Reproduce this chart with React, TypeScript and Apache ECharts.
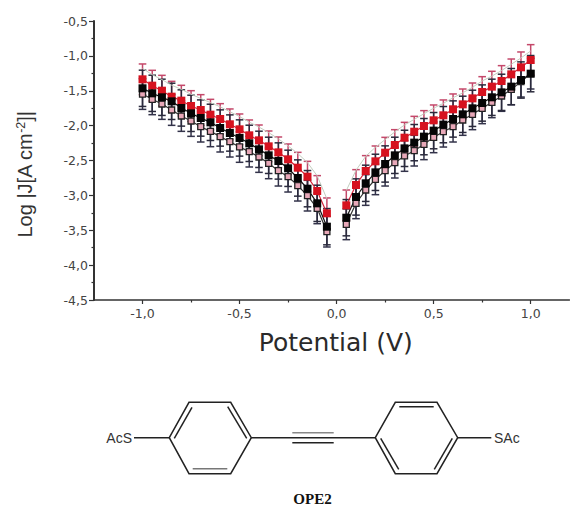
import React, { useEffect, useRef } from "react";
import * as echarts from "echarts";

const potentials = [
  -1.0, -0.95, -0.9, -0.85, -0.8, -0.75, -0.7, -0.65, -0.6, -0.55, -0.5, -0.45, -0.4, -0.35, -0.3, -0.25, -0.2, -0.15, -0.1, -0.05,
  0,
  0.05, 0.1, 0.15, 0.2, 0.25, 0.3, 0.35, 0.4, 0.45, 0.5, 0.55, 0.6, 0.65, 0.7, 0.75, 0.8, 0.85, 0.9, 0.95, 1.0,
];

const redValues = [
  -1.336, -1.427, -1.499, -1.585, -1.642, -1.719, -1.776, -1.843, -1.905, -1.981, -2.053, -2.139, -2.211, -2.297, -2.383, -2.483, -2.603, -2.732, -2.937, -3.257,
  null,
  -3.143, -2.851, -2.65, -2.512, -2.388, -2.278, -2.173, -2.087, -2.005, -1.924, -1.852, -1.766, -1.695, -1.609, -1.518, -1.441, -1.36, -1.265, -1.164, -1.059,
];
const blackValues = [
  -1.465, -1.537, -1.594, -1.652, -1.747, -1.824, -1.891, -1.953, -2.034, -2.106, -2.177, -2.254, -2.34, -2.426, -2.507, -2.612, -2.751, -2.904, -3.114, -3.449,
  null,
  -3.32, -3.023, -2.827, -2.67, -2.55, -2.426, -2.326, -2.244, -2.158, -2.072, -1.986, -1.905, -1.838, -1.752, -1.676, -1.594, -1.523, -1.441, -1.346, -1.255,
];
const openValues = [
  -1.547, -1.623, -1.69, -1.776, -1.862, -1.934, -2.015, -2.082, -2.158, -2.23, -2.306, -2.373, -2.45, -2.541, -2.646, -2.732, -2.861, -3.004, -3.186, -3.52,
  null,
  -3.415, -3.114, -2.923, -2.77, -2.646, -2.531, -2.435, -2.359, -2.268, -2.168, -2.087, -2.015, -1.919, -1.838, -1.752, -1.666, -1.575, -1.48, -1.37, -1.255,
];
const paleValues = [
  -1.18, -1.27, -1.34, -1.42, -1.48, -1.55, -1.61, -1.67, -1.73, -1.8, -1.87, -1.95, -2.02, -2.1, -2.19, -2.29, -2.4, -2.53, -2.72, -3.05,
  null,
  -2.93, -2.64, -2.44, -2.31, -2.2, -2.09, -1.99, -1.91, -1.83, -1.75, -1.68, -1.6, -1.53, -1.45, -1.36, -1.29, -1.21, -1.12, -1.03, -0.93,
];

const redError = 0.22;
const blackError = 0.26;
const openError = 0.22;

const xMajorTicks = [-1, -0.5, 0, 0.5, 1];
const xMinorTicks = [-0.75, -0.25, 0.25, 0.75];
const yTitle = "{a|Log |J[A cm}{b|-2}{a|]|}";
const xTitle = "Potential (V)";

const withComma = (v: number) => v.toFixed(1).replace(".", ",");

const points = (values: (number | null)[]) => potentials.map((x, i) => [x, values[i]]);

const errorSeries = (values: (number | null)[], err: number, color: string) => ({
  type: "custom",
  silent: true,
  data: potentials
    .map((x, i) => [x, values[i], err])
    .filter((d) => d[1] !== null),
  encode: { x: 0, y: 1 },
  renderItem: (_: unknown, api: any) => {
    const x = api.value(0);
    const y = api.value(1);
    const e = api.value(2);
    const hi = api.coord([x, y + e]);
    const lo = api.coord([x, y - e]);
    const style = { stroke: color, lineWidth: 1.5, fill: "none" };
    const cap = 3.8;
    return {
      type: "group",
      children: [
        { type: "line", shape: { x1: hi[0], y1: hi[1], x2: lo[0], y2: lo[1] }, style },
        { type: "line", shape: { x1: hi[0] - cap, y1: hi[1], x2: hi[0] + cap, y2: hi[1] }, style },
        { type: "line", shape: { x1: lo[0] - cap, y1: lo[1], x2: lo[0] + cap, y2: lo[1] }, style },
      ],
    };
  },
});

const lineSeries = (
  name: string,
  values: (number | null)[],
  line: string,
  lineWidth: number,
  symbolSize: number,
  fill: string,
  border: string,
  borderWidth: number,
) => ({
  name,
  type: "line",
  data: points(values),
  connectNulls: false,
  symbol: symbolSize ? "rect" : "none",
  symbolSize,
  lineStyle: { color: line, width: lineWidth },
  itemStyle: { color: fill, borderColor: border, borderWidth },
});

// Structure drawing of the molecule
const ink = "#222";
const bond = (x1: number, y1: number, x2: number, y2: number, stroke = ink, lineWidth = 1.5) => ({
  type: "line",
  shape: { x1, y1, x2, y2 },
  style: { stroke, lineWidth },
  silent: true,
});
const ring = (points: number[][]) => ({
  type: "polygon",
  shape: { points },
  style: { stroke: ink, lineWidth: 1.5, fill: "none" },
  silent: true,
});

const molecule = [
  ring([[169.3, 437.7], [189, 402.3], [230.7, 402.3], [251.3, 437.7], [230.7, 473.7], [189, 473.7]]),
  ring([[375.3, 437.7], [395.3, 402.3], [437, 402.3], [457.7, 437.7], [437, 473.7], [395.3, 473.7]]),
  bond(174.3, 438.3, 192, 407.3),
  bond(227.7, 406.7, 246.7, 438.3),
  bond(192.7, 468.7, 227.3, 468.7, "#777"),
  bond(399.3, 406.7, 433.7, 406.7),
  bond(380.7, 438.3, 398.7, 469.3),
  bond(434.3, 469.3, 452.3, 438.3),
  bond(134, 437.7, 169.3, 437.7),
  bond(457.7, 437.7, 491.3, 437.7),
  bond(251.3, 437.7, 375.3, 437.7),
  bond(292.3, 432.7, 333.7, 432.7, "#888"),
  bond(292.3, 442.7, 333.7, 442.7),
  {
    type: "text",
    x: 132,
    y: 438,
    silent: true,
    style: { text: "AcS", fill: "#333", font: '14px "Liberation Sans"', align: "right", verticalAlign: "middle" },
  },
  {
    type: "text",
    x: 494,
    y: 438,
    silent: true,
    style: { text: "SAc", fill: "#333", font: '14px "Liberation Sans"', align: "left", verticalAlign: "middle" },
  },
  {
    type: "text",
    x: 312.5,
    y: 499,
    silent: true,
    style: { text: "OPE2", fill: "#111", font: 'bold 15px "Liberation Serif"', align: "center", verticalAlign: "middle" },
  },
];

export default function App() {
  const ref = useRef<HTMLDivElement>(null);
  useEffect(() => {
    const chart = echarts.init(ref.current!, undefined, { renderer: "svg" });
    const labelStyle = { color: "#444", fontFamily: "DejaVu Sans", fontSize: 12.5 };
    const axisLine = { lineStyle: { color: "#333", width: 1.5 } };
    chart.setOption({
      animation: false,
      backgroundColor: "#fff",
      grid: { left: 94, top: 21, width: 475.5, height: 279 },
      xAxis: [
        {
          type: "value",
          min: -1.25,
          max: 1.2,
          splitLine: { show: false },
          axisLine: { ...axisLine, onZero: false },
          axisTick: { customValues: xMajorTicks, length: 4, lineStyle: { color: "#333", width: 1.2 } },
          axisLabel: { ...labelStyle, customValues: xMajorTicks, margin: 7, formatter: withComma },
          name: xTitle,
          nameLocation: "middle",
          nameGap: 30,
          nameTextStyle: { fontFamily: "DejaVu Sans", fontSize: 25, color: "#2a2a2a", padding: [0, 0, 0, 8] },
        },
        {
          type: "value",
          position: "bottom",
          min: -1.25,
          max: 1.2,
          splitLine: { show: false },
          axisLine: { show: false, onZero: false },
          axisTick: { customValues: xMinorTicks, length: 2.5, lineStyle: { color: "#333", width: 1.2 } },
          axisLabel: { show: false },
        },
      ],
      yAxis: {
        type: "value",
        min: -4.5,
        max: -0.5,
        interval: 0.5,
        splitLine: { show: false },
        axisLine: { lineStyle: { color: "#333", width: 2 }, onZero: false },
        axisTick: { length: 5, lineStyle: { color: "#333", width: 1.2 } },
        minorTick: { show: true, splitNumber: 2, length: 2.5, lineStyle: { color: "#333", width: 1.2 } },
        axisLabel: { ...labelStyle, margin: 6, formatter: withComma },
        name: yTitle,
        nameLocation: "middle",
        nameGap: 59,
        nameTextStyle: {
          padding: [0, 28, 0, 0],
          rich: {
            a: { fontFamily: "Liberation Sans", fontSize: 20, color: "#333" },
            b: { fontFamily: "Liberation Sans", fontSize: 12.5, color: "#333", verticalAlign: "top", padding: [0, 0, 8, 0] },
          },
        },
      },
      series: [
        lineSeries("pale", paleValues, "#c3cdbf", 1, 0, "#c3cdbf", "#c3cdbf", 0),
        errorSeries(redValues, redError, "#c4486a"),
        errorSeries(openValues, openError, "#33334a"),
        errorSeries(blackValues, blackError, "#2a2a3c"),
        lineSeries("red", redValues, "#d2243a", 1.2, 8, "#d6121f", "#d6121f", 0),
        lineSeries("open", openValues, "#333", 1.2, 6, "#e8a8b8", "#222", 1.3),
        lineSeries("black", blackValues, "#111", 1.2, 8, "#050505", "#050505", 0),
      ],
      graphic: molecule,
    });
    return () => chart.dispose();
  }, []);
  return <div ref={ref} style={{ position: "absolute", left: 0, top: 0, width: 570, height: 507 }} />;
}
